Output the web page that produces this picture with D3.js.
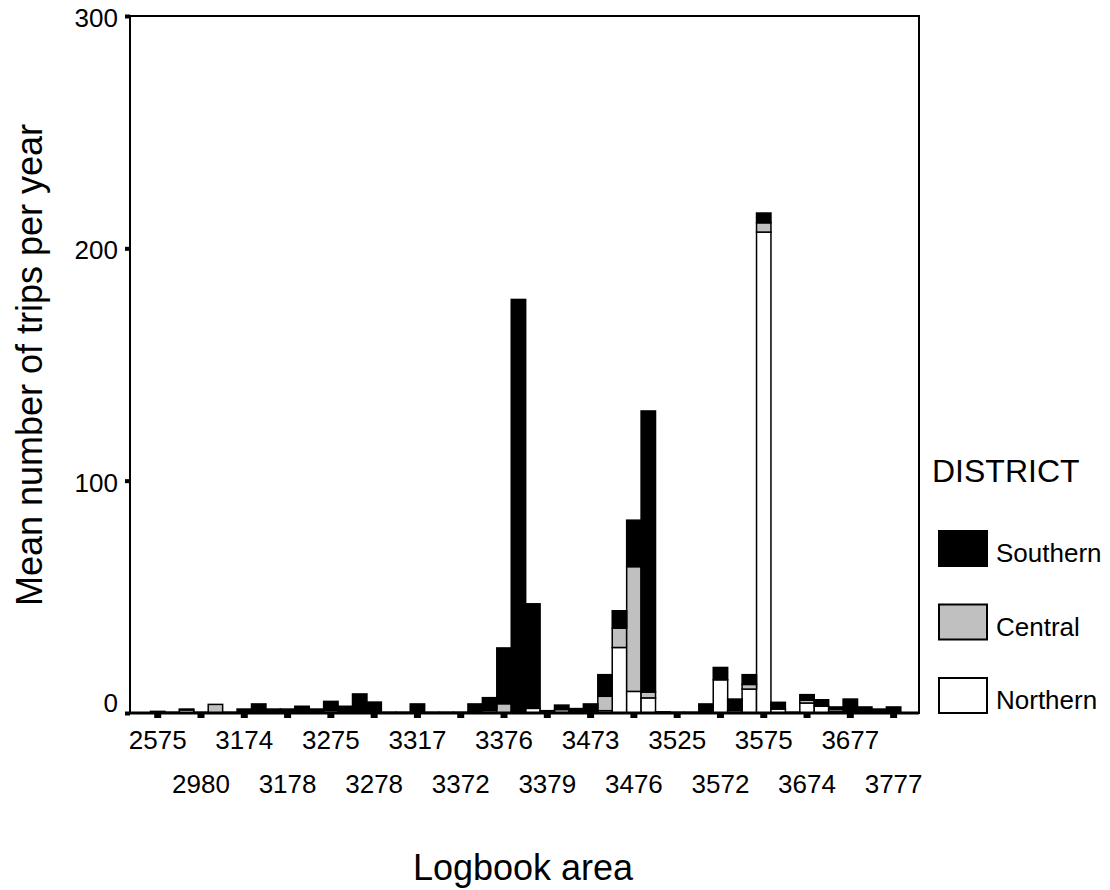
<!DOCTYPE html>
<html>
<head>
<meta charset="utf-8">
<script src="https://cdn.jsdelivr.net/npm/d3@7"></script>
<style>
  body { margin: 0; background: #fff; }
  text { font-family: "Liberation Sans", Arial, sans-serif; fill: #000; }
</style>
</head>
<body>
<div id="chart"></div>
<script>
// logbook areas, in axis order (every third one is labelled)
const areas = [
  "2575", "2576", "2975", "2980", "3075", "3173", "3174", "3175", "3177", "3178",
  "3179", "3273", "3275", "3276", "3277", "3278", "3279", "3316", "3317", "3318",
  "3371", "3372", "3373", "3375", "3376", "3377", "3378", "3379", "3380", "3472",
  "3473", "3474", "3475", "3476", "3477", "3478", "3525", "3526", "3571", "3572",
  "3573", "3574", "3575", "3576", "3673", "3674", "3675", "3676", "3677", "3678",
  "3776", "3777"
];

// mean trips per year, by district
const northern = [
  0, 0, 1.3, 0, 0, 0, 0, 0, 0, 0,
  0, 0, 1, 0, 0, 0, 0, 0, 0, 0,
  0, 0, 0, 1, 0, 0, 2, 0, 0, 0,
  0, 1, 28.2, 9.3, 6.5, 0, 0, 0, 0, 14.3,
  1, 10.3, 207, 1.7, 0, 4.3, 2.9, 0.5, 0, 0,
  0, 0
];
const central = [
  0, 0, 0, 0, 3.7, 0, 0, 0, 0, 0,
  0, 0, 0, 0, 0, 0, 0, 0, 0, 0,
  0, 0, 0, 0.6, 4, 0, 0, 0, 1.5, 0,
  0, 6.2, 8.3, 53.7, 2.5, 0, 0, 0, 0, 0,
  0, 2, 4, 0, 0, 1.2, 0, 1, 0, 0,
  0, 0
];
const southern = [
  0.7, 0.3, 0.4, 0.3, 0, 0.3, 1.7, 3.9, 1.7, 1.7,
  2.9, 1.7, 4, 2.9, 8.2, 4.7, 0.3, 0.3, 3.9, 0.3,
  0.3, 0.3, 3.9, 5, 24, 178, 45, 1, 1.9, 1.9,
  3.9, 9.3, 7.5, 20, 121, 0.5, 0.3, 0.3, 3.9, 5.3,
  5, 4.2, 4.2, 2.9, 0.3, 2.4, 2.8, 1.1, 6, 2.6,
  1.7, 2.6
];

const districts = ["Northern", "Central", "Southern"];
const fills = { Northern: "#ffffff", Central: "#c0c0c0", Southern: "#000000" };
const yTicks = [0, 100, 200, 300];

const width = 1110, height = 890;
const margin = { top: 16, right: 191, bottom: 177, left: 130 };
const plotW = width - margin.left - margin.right;
const plotH = height - margin.top - margin.bottom;

const svg = d3.select("#chart").append("svg")
  .attr("width", width)
  .attr("height", height);

const g = svg.append("g")
  .attr("transform", `translate(${margin.left},${margin.top})`);

const x = d3.scaleBand()
  .domain(areas)
  .range([0, plotW])
  .paddingInner(0)
  .paddingOuter(1.34)
  .align(0.53);

const y = d3.scaleLinear()
  .domain([0, 300])
  .range([plotH, 0]);

// stacked table built from the series arrays
const rows = areas.map((a, i) => ({
  area: a, Northern: northern[i], Central: central[i], Southern: southern[i]
}));
const stacked = d3.stack().keys(districts)(rows);

// bars
stacked.forEach(layer => {
  g.append("g")
    .selectAll("rect")
    .data(layer.filter(d => d[1] - d[0] > 0))
    .join("rect")
    .attr("x", d => x(d.data.area))
    .attr("width", x.bandwidth())
    .attr("y", d => y(d[1]))
    .attr("height", d => y(d[0]) - y(d[1]))
    .attr("fill", fills[layer.key])
    .attr("stroke", "#000")
    .attr("stroke-width", 1.5);
});

// frame
g.append("rect")
  .attr("width", plotW)
  .attr("height", plotH)
  .attr("fill", "none")
  .attr("stroke", "#000")
  .attr("stroke-width", 2);
g.append("line")
  .attr("x1", 0).attr("x2", plotW)
  .attr("y1", plotH).attr("y2", plotH)
  .attr("stroke", "#000")
  .attr("stroke-width", 3);

// y axis
const yAxis = g.append("g")
  .call(d3.axisLeft(y).tickValues(yTicks).tickSize(5).tickPadding(7));
yAxis.select(".domain").remove();
yAxis.selectAll(".tick line").attr("stroke-width", 4);
yAxis.selectAll(".tick text")
  .attr("font-size", 26)
  .attr("dy", d => d === 0 ? "-0.05em" : "0.4em");

// x axis, every third area labelled on two staggered rows
const labelled = areas.filter((a, i) => i % 3 === 0);
const xAxis = g.append("g")
  .attr("transform", `translate(0,${plotH})`)
  .call(d3.axisBottom(x).tickValues(labelled).tickSize(5).tickPadding(0));
xAxis.select(".domain").remove();
xAxis.selectAll(".tick line").attr("stroke-width", 7);
xAxis.selectAll(".tick text")
  .attr("font-size", 26)
  .attr("y", (d, i) => i % 2 === 0 ? 18 : 62);

// axis titles
svg.append("text")
  .attr("transform", "translate(42,365) rotate(-90)")
  .attr("text-anchor", "middle")
  .attr("font-size", 36)
  .text("Mean number of trips per year");

svg.append("text")
  .attr("x", 523)
  .attr("y", 880)
  .attr("text-anchor", "middle")
  .attr("font-size", 36)
  .text("Logbook area");

// legend
const legend = svg.append("g").attr("transform", "translate(932,0)");
legend.append("text")
  .attr("x", 0)
  .attr("y", 482)
  .attr("font-size", 32)
  .text("DISTRICT");

const legendOrder = ["Southern", "Central", "Northern"];
const item = legend.selectAll("g.item")
  .data(legendOrder)
  .join("g")
  .attr("class", "item")
  .attr("transform", (d, i) => `translate(0,${531 + i * 73.5})`);
item.append("rect")
  .attr("x", 7)
  .attr("width", 48)
  .attr("height", 35)
  .attr("fill", d => fills[d])
  .attr("stroke", "#000")
  .attr("stroke-width", 2);
item.append("text")
  .attr("x", 64)
  .attr("y", 31)
  .attr("font-size", 26)
  .text(d => d);
</script>
</body>
</html>
